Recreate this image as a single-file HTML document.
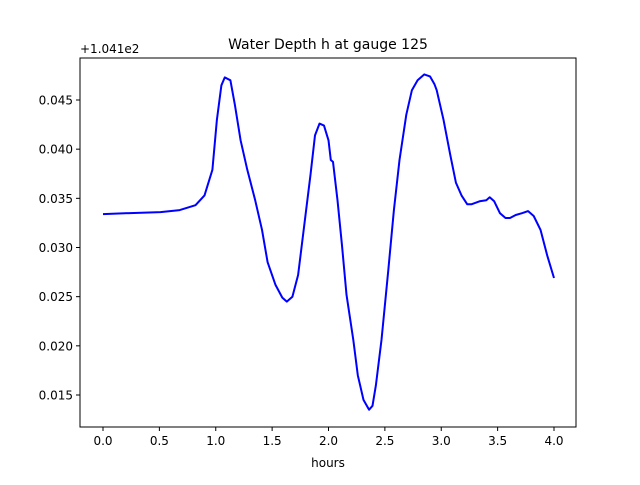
<!DOCTYPE html>
<html><head><meta charset="utf-8"><style>
body{margin:0;background:#fff}
svg text{font-family:"DejaVu Sans","Liberation Sans",sans-serif;fill:#000}
</style></head><body>
<svg id="chart" width="640" height="480">
<rect width="640" height="480" fill="#fff"/>
<text x="328" y="49" font-size="14" text-anchor="middle">Water Depth h at gauge 125</text>
<text x="80" y="53" font-size="12">+1.041e2</text>
<text x="328" y="467" font-size="12" text-anchor="middle">hours</text>
<g id="ticks"></g>
<path id="line" fill="none" stroke="#0000ff" stroke-width="2" stroke-linejoin="round"/>
<rect x="80" y="58" width="496" height="369" fill="none" stroke="#000" stroke-width="1"/>
</svg>
<script>
const xs=[0,0.24,0.51,0.68,0.82,0.90,0.97,1.01,1.05,1.08,1.13,1.17,1.22,1.28,1.35,1.41,1.46,1.53,1.59,1.63,1.68,1.73,1.78,1.84,1.88,1.92,1.96,2.00,2.02,2.04,2.08,2.12,2.16,2.22,2.26,2.31,2.36,2.39,2.42,2.47,2.53,2.58,2.63,2.69,2.74,2.79,2.85,2.90,2.94,2.96,3.02,3.08,3.13,3.18,3.23,3.27,3.34,3.40,3.43,3.47,3.52,3.57,3.61,3.66,3.72,3.77,3.82,3.88,3.94,4.00];
const ys=[0.0334,0.0335,0.0336,0.0338,0.0343,0.0353,0.0379,0.0430,0.0465,0.0473,0.0470,0.0445,0.0409,0.0379,0.0348,0.0318,0.0285,0.0262,0.0249,0.0245,0.0250,0.0272,0.0318,0.0374,0.0414,0.0426,0.0424,0.0409,0.0389,0.0387,0.0348,0.0302,0.0252,0.0206,0.0170,0.0145,0.0135,0.0139,0.0160,0.0206,0.0277,0.0338,0.0389,0.0435,0.0460,0.0470,0.0476,0.0474,0.0466,0.0460,0.0430,0.0394,0.0366,0.0353,0.0344,0.0344,0.0347,0.0348,0.0351,0.0347,0.0335,0.0330,0.0330,0.0333,0.0335,0.0337,0.0332,0.0318,0.0292,0.0269];
const xTicks=[0,0.5,1,1.5,2,2.5,3,3.5,4];
const xTickLabels=["0.0","0.5","1.0","1.5","2.0","2.5","3.0","3.5","4.0"];
const yTicks=[0.015,0.020,0.025,0.030,0.035,0.040,0.045];
const yTickLabels=["0.015","0.020","0.025","0.030","0.035","0.040","0.045"];
const X=v=>103+v*112.75;
const Y=v=>100+(0.045-v)*9833.3;
const NS="http://www.w3.org/2000/svg";
const g=document.getElementById('ticks');
function mk(t,a){const e=document.createElementNS(NS,t);for(const k in a)e.setAttribute(k,a[k]);return e;}
xTicks.forEach((v,i)=>{
  const l=mk('line',{x1:X(v),x2:X(v),y1:427,y2:431,stroke:'#000'});
  
  
  g.appendChild(l);
  const t=mk('text',{x:X(v),y:445,'font-size':12,'text-anchor':'middle'});
  
  
  t.textContent=xTickLabels[i];g.appendChild(t);
});
yTicks.forEach((v,i)=>{
  const l=mk('line',{x1:76,x2:80,y1:Y(v),y2:Y(v),stroke:'#000'});
  
  
  g.appendChild(l);
  const t=mk('text',{x:73,y:Y(v)+4.5,'font-size':12,'text-anchor':'end'});
  
  
  t.textContent=yTickLabels[i];g.appendChild(t);
});
document.getElementById('line').setAttribute('d',xs.map((x,i)=>(i?'L':'M')+X(x).toFixed(1)+','+Y(ys[i]).toFixed(1)).join(''));
</script>
</body></html>
